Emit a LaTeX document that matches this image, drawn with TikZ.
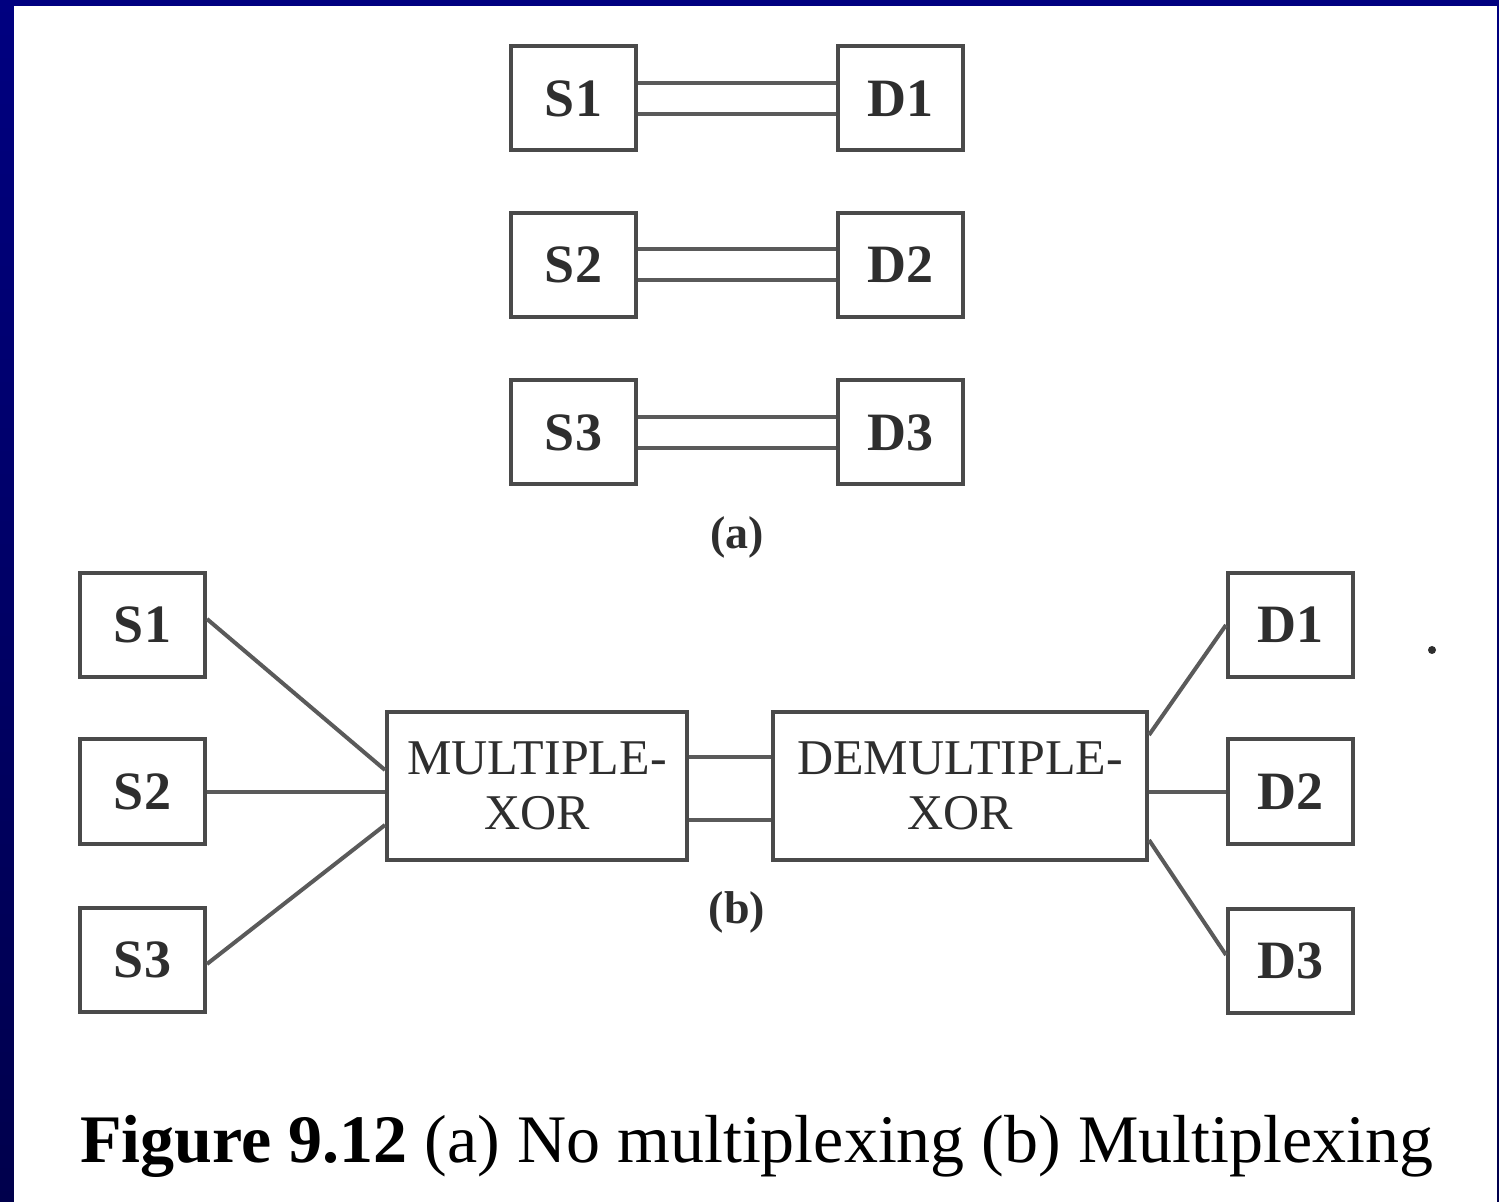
\documentclass[tikz,border=0pt]{standalone}
\usepackage{fontspec}
\setmainfont{Liberation Serif}
\definecolor{navytop}{HTML}{000080}
\definecolor{navybot}{HTML}{00004C}
\definecolor{boxline}{HTML}{4A4A4A}
\definecolor{wireline}{HTML}{5A5A5A}
\definecolor{inkc}{HTML}{2E2E2E}
\begin{document}
\begin{tikzpicture}[x=0.5pt,y=-0.5pt,
  smallbox/.style={draw=boxline,line width=2pt,minimum width=62.5pt,minimum height=52pt,inner sep=0pt,
    text=inkc,font=\fontsize{27}{30}\selectfont\bfseries},
  bigbox/.style={draw=boxline,line width=2pt,minimum height=74pt,inner sep=0pt,align=center,
    text=inkc,font=\fontsize{25}{27.5}\selectfont},
  wire/.style={draw=wireline,line width=2pt},
  lbl/.style={text=inkc,font=\fontsize{23}{26}\selectfont\bfseries}]
% background
\shade[top color=navytop,bottom color=navybot] (0,0) rectangle (1499,1202);
\fill[white] (14,6) rectangle (1497,1202);
\useasboundingbox (0,0) rectangle (1499,1202);
% (a)
\node[smallbox] (aS1) at (573.5,98.5) {S1};
\node[smallbox] (aD1) at (900,98.5) {D1};
\node[smallbox] (aS2) at (573.5,265) {S2};
\node[smallbox] (aD2) at (900,265) {D2};
\node[smallbox] (aS3) at (573.5,432.5) {S3};
\node[smallbox] (aD3) at (900,432.5) {D3};
\foreach \i in {1,2,3}{
  \draw[wire] ([yshift=7.75pt]aS\i.east) -- ([yshift=7.75pt]aD\i.west);
  \draw[wire] ([yshift=-7.75pt]aS\i.east) -- ([yshift=-7.75pt]aD\i.west);
}
\node[lbl] (la) at (737,537) {(a)};
% (b)
\node[smallbox] (bS1) at (142.5,625) {S1};
\node[smallbox] (bS2) at (142.5,791.5) {S2};
\node[smallbox] (bS3) at (142.5,960) {S3};
\node[smallbox] (bD1) at (1290.5,625) {D1};
\node[smallbox] (bD2) at (1290.5,791.5) {D2};
\node[smallbox] (bD3) at (1290.5,961) {D3};
\node[bigbox,minimum width=150pt] (mux) at (537,786) {MULTIPLE-\\XOR};
\node[bigbox,minimum width=187pt] (demux) at (960,786) {DEMULTIPLE-\\XOR};
\draw[wire] ([yshift=3pt]bS1.east) -- ([yshift=8pt]mux.west);
\draw[wire] (bS2.east) -- (bS2.east -| mux.west);
\draw[wire] ([yshift=-2pt]bS3.east) -- ([yshift=-19.5pt]mux.west);
\draw[wire] ([yshift=14.5pt]mux.east) -- ([yshift=14.5pt]demux.west);
\draw[wire] ([yshift=-17pt]mux.east) -- ([yshift=-17pt]demux.west);
\draw[wire] ([yshift=25.5pt]demux.east) -- (bD1.west);
\draw[wire] (bD2.west -| demux.east) -- (bD2.west);
\draw[wire] ([yshift=-27pt]demux.east) -- ([yshift=3pt]bD3.west);
\node[lbl] (lb) at (737,912) {(b)};
\fill[inkc] (1432,650) circle (2pt);
% caption
\node[anchor=base west,inner sep=0pt,text=black,font=\fontsize{34}{38}\selectfont] (cap) at (80,1162)
  {\textbf{Figure 9.12} (a) No multiplexing (b) Multiplexing};
\end{tikzpicture}
\end{document}
